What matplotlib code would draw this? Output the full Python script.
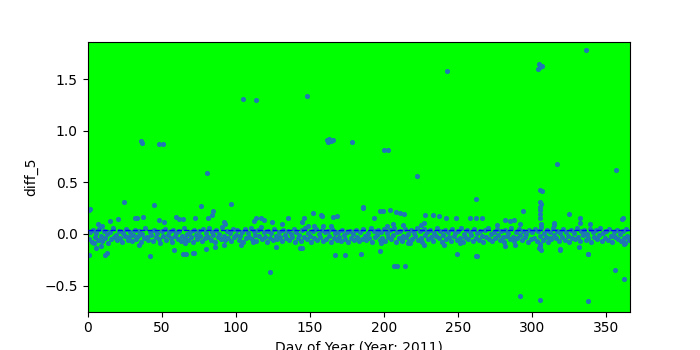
import matplotlib
matplotlib.use("Agg")
import matplotlib.pyplot as plt
import numpy as np

# Daily baseline values (day 1..365)
band_values = [
    -0.05, 0.02, -0.08, 0.04, -0.03, 0.01, -0.06, 0.05, -0.02, -0.07, 0.03, -0.04, 0.00, -0.09, 0.02, -0.05, 0.06, -0.03, -0.01, -0.06,
    0.03, -0.04, -0.08, 0.01, -0.02, 0.05, -0.06, -0.03, 0.02, -0.07, -0.01, 0.04, -0.05, -0.02, 0.03, -0.08, 0.00, -0.04, 0.06, -0.03,
    -0.06, 0.02, -0.01, -0.07, 0.04, -0.03, 0.01, -0.05, -0.09, 0.03, -0.02, 0.05, -0.06, -0.01, 0.02, -0.04, -0.08, 0.04, -0.02, 0.01,
    -0.05, 0.03, -0.07, -0.02, 0.06, -0.04, 0.00, -0.06, 0.02, -0.03, -0.08, 0.04, -0.01, -0.05, 0.03, -0.02, -0.07, 0.05, -0.04, 0.01,
    -0.03, 0.06, -0.06, 0.02, -0.01, -0.08, 0.04, -0.03, 0.00, -0.05, 0.07, -0.02, -0.06, 0.03, -0.04, 0.01, -0.07, 0.05, -0.03, -0.01,
    0.04, -0.06, -0.02, 0.02, -0.08, 0.05, -0.04, 0.01, -0.03, 0.06, -0.05, 0.03, -0.01, -0.07, 0.04, -0.02, 0.07, -0.05, 0.02, -0.03,
    -0.08, 0.03, -0.04, 0.01, -0.06, 0.05, -0.02, -0.05, 0.02, -0.03, -0.07, 0.04, -0.01, -0.04, 0.03, -0.06, 0.00, -0.03, 0.05, -0.08,
    0.02, -0.04, -0.01, -0.07, 0.04, -0.03, 0.06, -0.05, 0.01, -0.02, -0.08, 0.03, -0.04, 0.05, -0.06, 0.00, -0.03, 0.04, -0.07, 0.02,
    -0.05, 0.03, -0.02, -0.08, 0.05, -0.04, 0.01, -0.06, 0.02, -0.03, -0.07, 0.04, -0.01, -0.05, 0.02, -0.08, 0.03, -0.04, 0.00, -0.06,
    0.04, -0.03, -0.07, 0.02, -0.05, 0.05, -0.02, -0.06, 0.01, -0.04, 0.06, -0.08, 0.03, -0.03, -0.01, 0.04, -0.06, 0.02, -0.04, 0.05,
    -0.07, 0.01, -0.03, 0.04, -0.05, -0.01, 0.06, -0.08, 0.02, -0.04, 0.03, -0.06, -0.02, 0.05, -0.03, 0.00, -0.07, 0.04, -0.05, 0.01,
    -0.02, 0.06, -0.06, 0.03, -0.04, -0.08, 0.05, -0.01, 0.02, -0.05, 0.04, -0.03, -0.07, 0.01, -0.02, 0.06, -0.04, 0.03, -0.08, -0.01,
    0.04, -0.05, 0.02, -0.03, -0.07, 0.05, -0.02, 0.01, -0.06, 0.03, -0.04, 0.06, -0.08, 0.00, -0.03, 0.04, -0.05, 0.02, -0.01, -0.07,
    0.05, -0.04, 0.01, -0.06, 0.03, -0.02, -0.08, 0.04, -0.03, 0.06, -0.05, 0.00, -0.07, 0.02, -0.04, 0.05, -0.01, -0.06, 0.03, -0.03,
    -0.08, 0.04, -0.02, 0.01, -0.05, 0.06, -0.03, -0.07, 0.02, -0.04, 0.05, -0.01, -0.06, 0.03, -0.03, 0.00, -0.08, 0.04, -0.05, 0.02,
    -0.04, 0.05, -0.07, 0.03, -0.02, 0.07, -0.06, 0.01, -0.03, 0.04, -0.08, 0.02, -0.05, 0.06, -0.01, -0.04, 0.03, -0.07, 0.01, -0.03,
    0.05, -0.06, 0.02, -0.02, -0.08, 0.04, -0.04, 0.01, -0.05, 0.06, -0.03, -0.07, 0.03, -0.01, 0.04, -0.06, 0.00, -0.04, 0.05, -0.08,
    0.02, -0.03, 0.04, -0.05, -0.01, 0.06, -0.07, 0.01, -0.04, 0.03, -0.06, 0.05, -0.02, -0.08, 0.02, -0.03, 0.04, -0.05, 0.00, -0.07,
    0.03, -0.04, 0.05, -0.02, -0.06,
]
band_days = list(range(1, len(band_values) + 1))

# Additional (off-band) readings
extra_days = [
    1.3, 2, 36, 36.5, 48.5, 50.8, 80.6, 104.9, 113.7, 148,
    161.5, 162.5, 163, 164, 165.5, 178.5, 200, 203, 242.6, 304.2,
    304.5, 305.5, 306.5, 336.5, 222.3, 317, 356.7,
    291.5, 305.2, 338,
    24.3, 44.8, 76.5, 97, 123, 42, 1.3, 185.7, 186, 206.5, 208.5, 214.5,
    262.2, 262.4, 294, 325, 356, 362, 338, 318.7, 360.8,
    305, 306.5, 305.5, 306, 305.5, 305.5, 305.5, 305, 306, 305.5,
    15, 20.5, 32, 33.5, 37.3, 48.3, 51.8, 59.4, 62, 64.3, 72.7, 7, 9.7,
    4.3, 5.6, 9, 11.8, 13.2, 34.7, 58.4, 64.4, 66.4, 71, 65.5,
    85, 84, 81.3, 92, 92.5, 112, 114, 117, 119, 124.4, 135, 131, 145,
    80, 86, 92, 103.5, 111.5, 127, 143.4, 71.8,
    152, 157.5, 158, 165.6, 168.3, 146, 193.3, 197.4, 199.4, 204, 208, 210.5, 213.5,
    202, 206, 213, 149, 153, 159, 164,
    167, 173.7, 184.5, 197.4, 216, 198, 212, 144.5,
    228, 233, 237, 242, 248.6, 258, 262, 266, 282, 285, 288, 227, 225, 276,
    227, 240.6, 251, 249.3, 263, 281.6, 288.4, 217.4,
    292, 314.5, 315, 332, 332.5, 339, 361,
    306, 305, 304.5, 319, 331.8, 337.8, 362, 362.5, 312,
]
extra_values = [
    0.235, 0.24, 0.90, 0.88, 0.87, 0.87, 0.59, 1.306, 1.297, 1.335,
    0.91, 0.89, 0.92, 0.90, 0.91, 0.89, 0.81, 0.81, 1.577, 1.60,
    1.645, 1.62, 1.63, 1.78, 0.56, 0.677, 0.62,
    -0.60, -0.64, -0.655,
    0.31, 0.28, 0.27, 0.29, -0.37, -0.21, -0.20, 0.26, 0.25, -0.31, -0.31, -0.31,
    0.34, -0.21, 0.22, 0.197, -0.345, -0.435, -0.19, -0.15, 0.145,
    0.43, 0.42, 0.31, 0.29, 0.26, 0.23, 0.19, 0.155, 0.10, -0.10,
    0.13, 0.145, 0.155, 0.155, 0.165, 0.135, 0.116, 0.16, 0.145, 0.145, 0.155, 0.097, 0.074,
    -0.087, -0.135, -0.116, -0.20, -0.18, -0.106, -0.16, -0.19, -0.19, -0.18, -0.09,
    0.22, 0.18, 0.155, 0.116, 0.097, 0.13, 0.155, 0.15, 0.14, 0.116, 0.155, 0.097, 0.116,
    -0.145, -0.126, -0.106, -0.106, -0.077, -0.126, -0.135, -0.18,
    0.20, 0.18, 0.175, 0.165, 0.175, 0.155, 0.155, 0.22, 0.22, 0.23, 0.21, 0.20, 0.19,
    0.08, 0.10, 0.09, 0.08, 0.08, 0.08, 0.08,
    -0.20, -0.20, -0.19, -0.17, -0.09, -0.09, -0.07, -0.135,
    0.18, 0.18, 0.175, 0.155, 0.155, 0.15, 0.15, 0.15, 0.14, 0.13, 0.14, 0.11, 0.09, 0.09,
    -0.106, -0.106, -0.09, -0.19, -0.21, -0.116, -0.106, -0.087,
    0.10, 0.11, 0.09, 0.15, 0.11, 0.10, 0.155,
    -0.16, -0.12, -0.135, -0.155, -0.126, -0.19, -0.10, -0.09, -0.04,
]

mean_value = 0.04
x_limits = (0, 366)
y_limits = (-0.752, 1.861)

days = band_days + extra_days
values = band_values + extra_values

fig, ax = plt.subplots(figsize=(7, 3.5), dpi=100)
ax.set_facecolor('#00ff00')
ax.scatter(days, values, s=7, color='#1f77b4', zorder=2)
ax.axhline(mean_value, color='blue', linestyle='--', linewidth=1, zorder=3)
ax.set_xlim(*x_limits)
ax.set_ylim(*y_limits)
ax.set_xlabel('Day of Year (Year: 2011)')
ax.set_ylabel('diff_5')
fig.savefig('out.png', dpi=100)
